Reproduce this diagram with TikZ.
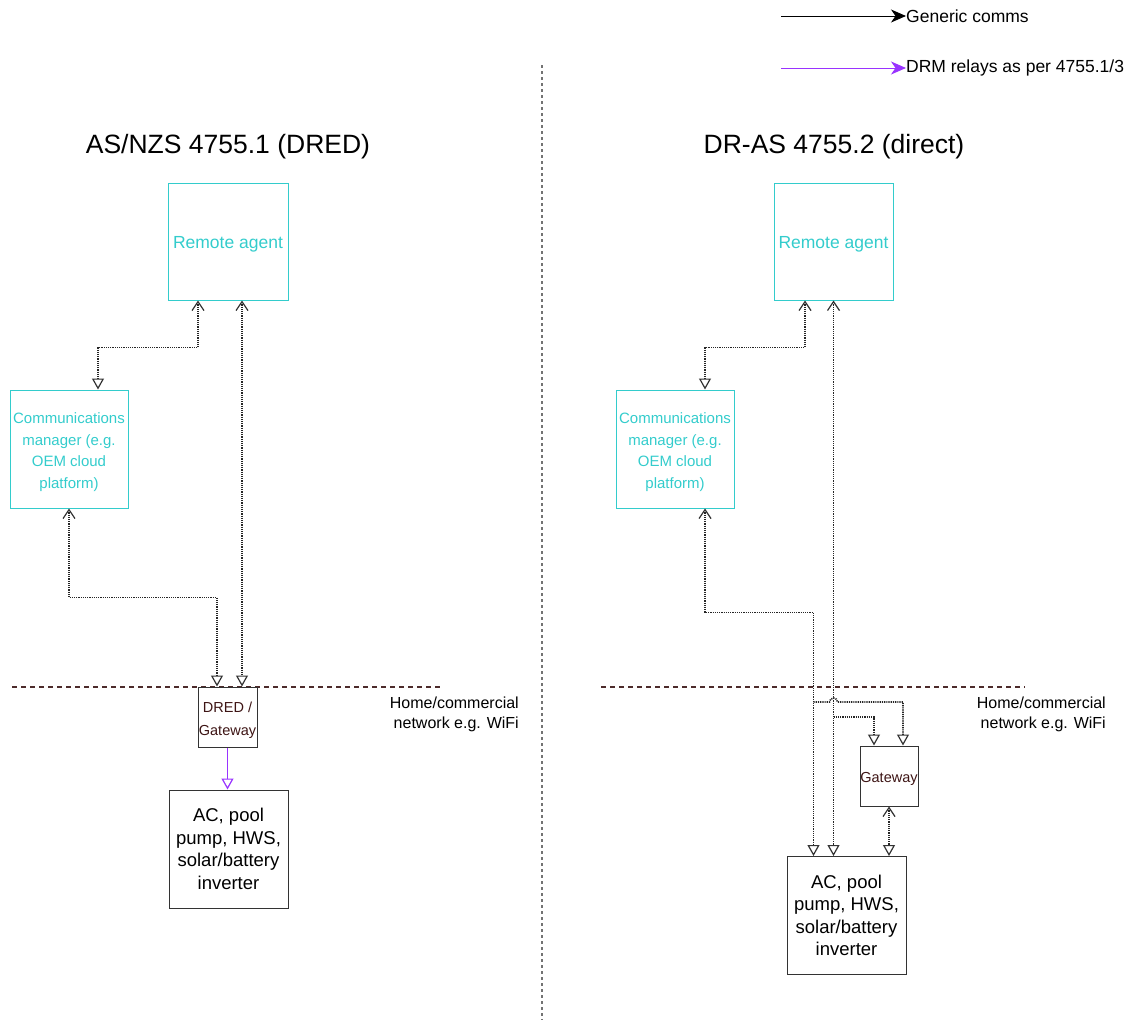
\documentclass[tikz,border=0pt]{standalone}
\usepackage{fontspec}
\setmainfont{Liberation Sans}
\usetikzlibrary{arrows.meta,calc}
\definecolor{agentcyan}{HTML}{33CCCC}
\definecolor{relaypurple}{HTML}{9933FF}
\definecolor{netline}{HTML}{4D2B2B}
\definecolor{gwtext}{HTML}{3D1414}
\definecolor{tipgray}{HTML}{333333}
\tikzset{
  cbox/.style={draw=agentcyan, line width=1pt, text=agentcyan, inner sep=0pt, align=center},
  kbox/.style={draw=black!80, line width=1pt, inner sep=0pt, align=center},
  comm/.style={draw=black!85, line width=1.6pt, dash pattern=on 1.2pt off 1pt},
  relay/.style={draw=relaypurple, line width=1pt},
  vtip/.tip={Straight Barb[length=9pt,width=12pt,line width=1.2pt,color=tipgray]},
  ttip/.tip={Triangle[open,length=11pt,width=12pt,line width=1.2pt,color=tipgray,fill=white]},
  ptip/.tip={Triangle[open,length=11pt,width=12pt,line width=1.2pt,color=relaypurple,fill=white]},
  legtip/.tip={Stealth[length=15pt,width=13pt,inset=4.5pt]},
  net/.style={draw=netline, line width=1.4pt, dash pattern=on 5pt off 4pt},
  divider/.style={draw=black!55, line width=1.4pt, dash pattern=on 3pt off 3pt},
  fs/.style n args={2}{font=\fontsize{#1}{#2}\selectfont},
  % box drawn empty, its text placed slightly lower than dead centre
  lowtext/.style n args={2}{label={[#1, align=center, yshift=-3pt]center:#2}},
}
\begin{document}
\begin{tikzpicture}[x=1pt,y=-1pt]
\useasboundingbox (0,0) rectangle (1136,1020);

% legend
\node[fs={17.5}{21}, anchor=west, inner sep=0pt] (lgA) at (906,16) {Generic comms};
\node[fs={17.5}{21}, anchor=west, inner sep=0pt] (lgB) at (906,68) {DRM relays as per 4755.1/3};
\coordinate (lgAs) at (781,16);
\coordinate (lgBs) at (781,68);
\draw[line width=1pt, -legtip] (lgAs) -- (lgA.west);
\draw[relay, -legtip] (lgBs) -- (lgB.west);

% divider between the two schemes
\coordinate (divT) at (542,65);
\coordinate (divB) at (542,1020);
\draw[divider] (divT) -- (divB);

% titles
\node[fs={26.5}{30}] (titL) at (228,147) {AS/NZS 4755.1 (DRED)};
\node[fs={26.5}{30}] (titR) at (834,147) {DR-AS 4755.2 (direct)};

% home/commercial network boundary
\coordinate (netLa) at (12,687);
\coordinate (netLb) at (443,687);
\coordinate (netRa) at (601,687);
\coordinate (netRb) at (1025,687);
\draw[net] (netLa) -- (netLb);
\draw[net] (netRa) -- (netRb);
\node[fs={16}{20}, align=right, anchor=north east, inner sep=0pt] (netTL) at (519,697) {Home/commercial\\network e.g. WiFi};
\node[fs={16}{20}, align=right, anchor=north east, inner sep=0pt] (netTR) at (1106,697) {Home/commercial\\network e.g. WiFi};

% ---- left scheme: DRED ----
\node[cbox, minimum width=120pt, minimum height=117pt,
  lowtext={fs={17.5}{21}, text=agentcyan}{Remote agent}] (raL) at (228,241.5) {};
\node[cbox, minimum width=118pt, minimum height=118pt,
  lowtext={fs={15}{21.7}, text=agentcyan}{Communications\\manager (e.g.\\OEM cloud\\platform)}] (cmL) at (69,449) {};
\node[kbox, minimum width=59pt, minimum height=60pt,
  lowtext={fs={14.5}{23}, text=gwtext}{DRED /\\Gateway}] (dred) at (227.5,717) {};
\node[kbox, minimum width=119pt, minimum height=118pt, fs={18.5}{22.5}] (acL) at (228.5,849) {AC, pool\\pump, HWS,\\solar/battery\\inverter};

\draw[comm, vtip-ttip] ($(raL.south)+(-30,0)$) -- ++(0,47) -| ($(cmL.north)+(29,0)$);
\draw[comm, vtip-ttip] ($(raL.south)+(14,0)$) -- ($(dred.north)+(14.5,0)$);
\draw[comm, vtip-ttip] (cmL.south) -- ++(0,89) -| ($(dred.north)+(-10.5,0)$);
\draw[relay, -ptip] (dred.south) -- (dred.south |- acL.north);

% ---- right scheme: direct ----
\node[cbox, minimum width=119pt, minimum height=117pt,
  lowtext={fs={17.5}{21}, text=agentcyan}{Remote agent}] (raR) at (833.5,241.5) {};
\node[cbox, minimum width=118pt, minimum height=118pt,
  lowtext={fs={15}{21.7}, text=agentcyan}{Communications\\manager (e.g.\\OEM cloud\\platform)}] (cmR) at (675,449) {};
\node[kbox, minimum width=58pt, minimum height=60pt,
  lowtext={fs={14.5}{18}, text=gwtext}{Gateway}] (gw) at (889,776) {};
\node[kbox, minimum width=119pt, minimum height=118pt, fs={18.5}{22.5}] (acR) at (846.5,915.5) {AC, pool\\pump, HWS,\\solar/battery\\inverter};

\draw[comm, vtip-ttip] ($(raR.south)+(-28.5,0)$) -- ++(0,47) -| ($(cmR.north)+(30,0)$);
\draw[comm, vtip-ttip] (raR.south) -- (raR.south |- acR.north);
\draw[comm, vtip-ttip] ($(cmR.south)+(30,0)$) -- ++(0,104) -| ($(acR.north)+(-33,0)$);

% branches into the gateway, hopping over the agent line
\coordinate (brA) at (813.5,702);
\coordinate (brB) at (833.5,717);
\coordinate (gwInR) at ($(gw.north)+(14,0)$);
\coordinate (gwInL) at ($(gw.north)+(-15,0)$);
\draw[comm, -ttip] (brA) -- (829.5,702) arc[start angle=180,end angle=0,radius=4pt]
  -- (gwInR |- brA) -- (gwInR);
\draw[comm, -ttip] (brB) -| (gwInL);
\draw[comm, vtip-ttip] (gw.south) -- (gw.south |- acR.north);

\end{tikzpicture}
\end{document}
